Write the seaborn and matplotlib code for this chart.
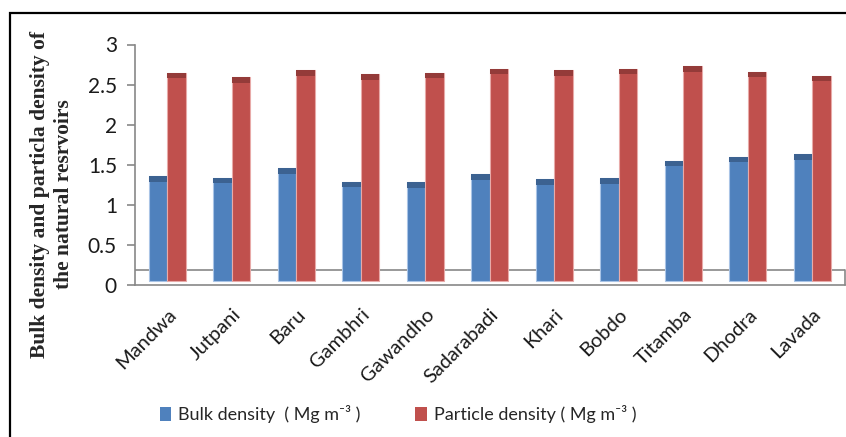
import numpy as np
import pandas as pd
import matplotlib
matplotlib.use("Agg")
import matplotlib.pyplot as plt
from matplotlib.patches import Rectangle
import seaborn as sns

# Reservoir sites and measured densities (Mg m^-3)
sites = ["Mandwa", "Jutpani", "Baru", "Gambhri", "Gawandho", "Sadarabadi",
         "Khari", "Bobdo", "Titamba", "Dhodra", "Lavada"]
bulk_density = [1.36, 1.34, 1.46, 1.29, 1.28, 1.38, 1.32, 1.33, 1.55, 1.60, 1.63]
particle_density = [2.65, 2.59, 2.68, 2.63, 2.65, 2.70, 2.68, 2.70, 2.73, 2.66, 2.61]
series_names = ["Bulk density  ( Mg m\u207b\u00b3 )", "Particle density ( Mg m\u207b\u00b3 )"]
y_ticks = [0, 0.5, 1, 1.5, 2, 2.5, 3]

df = pd.DataFrame({
    "site": sites * 2,
    "value": bulk_density + particle_density,
    "series": [series_names[0]] * len(sites) + [series_names[1]] * len(sites),
})

sns.set_style("white")
plt.rcParams["font.family"] = ["Lato", "DejaVu Sans"]

face_colors = ["#4F81BD", "#C0504D"]
cap_colors = ["#3C6291", "#943B39"]
edge_colors = ["#A9C4E6", "#E8AAA8"]
axis_gray = "#878787"

W, H = 846, 437
fig = plt.figure(figsize=(W / 100, H / 100), dpi=100)
ax = fig.add_axes([135 / W, (H - 285) / H, (844.5 - 135) / W, (285 - 44.5) / H])

sns.barplot(data=df, x="site", y="value", hue="series", palette=face_colors,
            width=0.57, saturation=1, legend=False, ax=ax, zorder=3)

# Bars stand slightly in front of the floor; give each a darker top face
floor_lift = 0.05
cap_h = 0.07
for i, bar in enumerate(ax.patches):
    s = i // len(sites)
    top = bar.get_y() + bar.get_height()
    bar.set_y(floor_lift)
    bar.set_height(top - floor_lift)
    bar.set_edgecolor(edge_colors[s])
    bar.set_linewidth(0.8)
    ax.add_patch(Rectangle((bar.get_x(), top - cap_h), bar.get_width(), cap_h,
                           facecolor=cap_colors[s], edgecolor="none", zorder=4))

# Floor outline behind the bars
floor_back = 0.187
ax.plot([-0.5, 10.5], [floor_back, floor_back], color=axis_gray, lw=1.2, zorder=1)
ax.plot([10.5, 10.5], [0, floor_back], color=axis_gray, lw=1.2, zorder=1, clip_on=False)

ax.set_xlim(-0.5, len(sites) - 0.5)
ax.set_ylim(0, 3)
ax.set_yticks(y_ticks)
ax.set_yticklabels([f"{t:g}" for t in y_ticks])
ax.set_xticks(range(len(sites)))
ax.set_xticklabels(sites, rotation=45, ha="right", rotation_mode="anchor")
ax.set_xticks(np.arange(-0.5, len(sites)), minor=True)
ax.tick_params(axis="x", which="major", length=0, pad=15, labelsize=14.5, labelcolor="#1a1a1a")
ax.tick_params(axis="x", which="minor", length=6, width=1.2, color=axis_gray, direction="out")
ax.tick_params(axis="y", length=6, width=1.2, color=axis_gray, pad=7, labelsize=15,
               labelcolor="#1a1a1a", left=True)
ax.set_xlabel("")
ax.set_ylabel("")
for side in ["top", "right"]:
    ax.spines[side].set_visible(False)
for side in ["left", "bottom"]:
    ax.spines[side].set_color(axis_gray)
    ax.spines[side].set_linewidth(1.2)

fig.text(52 / W, (H - 194) / H,
         "Bulk density and particla density of\nthe natural resrvoirs",
         rotation=90, ha="center", va="center", multialignment="center",
         fontsize=15.5, fontweight="bold", family="Liberation Serif",
         linespacing=1.25)

handles = [Rectangle((0, 0), 1, 1, facecolor=c, edgecolor="none") for c in face_colors]
fig.legend(handles, series_names, loc="center", bbox_to_anchor=(398 / W, (H - 414) / H),
           ncol=2, frameon=False, fontsize=13, handlelength=0.65, handleheight=0.8,
           handletextpad=0.4, columnspacing=3.0)

# Chart frame (left and top edges inside the canvas)
fig.patches.append(Rectangle((10 / W, -0.1), 1.2, 1.1 - 13 / H, transform=fig.transFigure,
                             facecolor="none", edgecolor="black", lw=1.6))

fig.savefig("out.png", dpi=100)
